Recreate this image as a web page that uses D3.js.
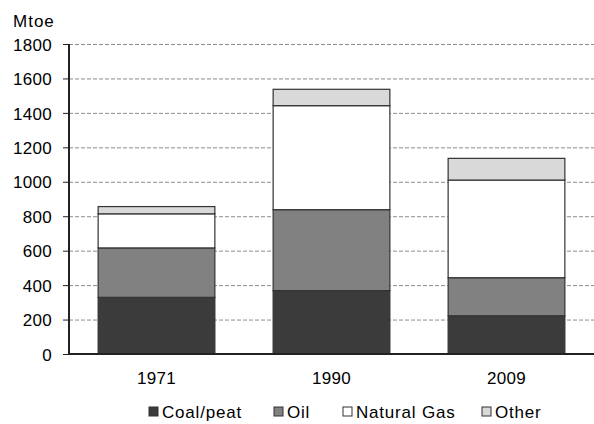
<!DOCTYPE html>
<html>
<head>
<meta charset="utf-8">
<script src="https://cdn.jsdelivr.net/npm/d3@7"></script>
<style>
  body { margin: 0; background: #fff; }
  text { font-family: "Liberation Sans", Arial, sans-serif; fill: #000; }
</style>
</head>
<body>
<svg id="chart" width="594" height="424"></svg>
<script>
// data (Mtoe)
var years = ['1971', '1990', '2009'];
var coal = [329, 368, 222];
var oil = [287, 470, 221];
var gas = [198, 604, 567];
var other = [42, 95, 126];
var seriesNames = ['Coal/peat', 'Oil', 'Natural Gas', 'Other'];
var yTicks = [0, 200, 400, 600, 800, 1000, 1200, 1400, 1600, 1800];

var colors = ['#3b3b3b', '#818181', '#ffffff', '#d9d9d9'];

var svg = d3.select('#chart'),
    margin = {top: 44, right: 0, bottom: 70, left: 69},
    width = 594 - margin.left - margin.right,
    height = 424 - margin.top - margin.bottom;

var rows = years.map(function(y, i) {
  return {year: y, 'Coal/peat': coal[i], 'Oil': oil[i], 'Natural Gas': gas[i], 'Other': other[i]};
});
var stack = d3.stack().keys(seriesNames)(rows);

var x = d3.scaleBand().domain(years).range([0, width]).paddingInner(0.333).paddingOuter(0.1665);
var y = d3.scaleLinear().domain([0, 1800]).range([height, 0]);

var g = svg.append('g').attr('transform', 'translate(' + margin.left + ',' + margin.top + ')');

// gridlines
g.selectAll('line.grid')
  .data(yTicks.filter(function(d) { return d > 0; }))
  .enter().append('line')
  .attr('class', 'grid')
  .attr('x1', 0).attr('x2', width)
  .attr('y1', function(d) { return y(d) + 0.5; })
  .attr('y2', function(d) { return y(d) + 0.5; })
  .style('stroke', '#8c8c8c')
  .style('stroke-dasharray', '4,2');

// bars
var layers = g.selectAll('g.layer')
  .data(stack)
  .enter().append('g')
  .attr('class', 'layer')
  .style('fill', function(d, i) { return colors[i]; });

layers.selectAll('rect')
  .data(function(d) { return d; })
  .enter().append('rect')
  .attr('x', function(d) { return x(d.data.year); })
  .attr('width', x.bandwidth())
  .attr('y', function(d) { return y(d[1]); })
  .attr('height', function(d) { return y(d[0]) - y(d[1]); })
  .style('stroke', '#333')
  .style('stroke-width', 1.2);

// y axis
var yAxis = g.append('g')
  .call(d3.axisLeft(y).tickValues(yTicks).tickSize(6).tickPadding(11).tickFormat(d3.format('d')));
yAxis.select('.domain').style('stroke', '#222').style('stroke-width', 2).attr('d', 'M0,0V' + height);
yAxis.selectAll('.tick line').style('stroke', '#222');
yAxis.selectAll('text').style('font-size', '17px').style('letter-spacing', '0.3px').attr('dy', '0.36em');

// x axis
var xAxis = g.append('g')
  .attr('transform', 'translate(0,' + height + ')')
  .call(d3.axisBottom(x).tickSize(0).tickPadding(18));
xAxis.select('.domain').style('stroke', '#222').style('stroke-width', 2).attr('d', 'M0,0H' + width);
xAxis.selectAll('text').style('font-size', '17px').style('letter-spacing', '0.3px');

// unit label
svg.append('text').attr('x', 13).attr('y', 27).style('font-size', '17px').style('letter-spacing', '1px').text('Mtoe');

// legend
var legendX = [149, 274, 343, 482];
var legend = svg.selectAll('g.legend')
  .data(seriesNames)
  .enter().append('g')
  .attr('class', 'legend')
  .attr('transform', function(d, i) { return 'translate(' + legendX[i] + ',407)'; });
legend.append('rect')
  .attr('width', 9).attr('height', 9)
  .style('fill', function(d, i) { return colors[i]; })
  .style('stroke', '#333');
legend.append('text')
  .attr('x', 13).attr('y', 11)
  .style('font-size', '17px')
  .style('letter-spacing', '0.8px')
  .text(function(d) { return d; });
</script>
</body>
</html>
